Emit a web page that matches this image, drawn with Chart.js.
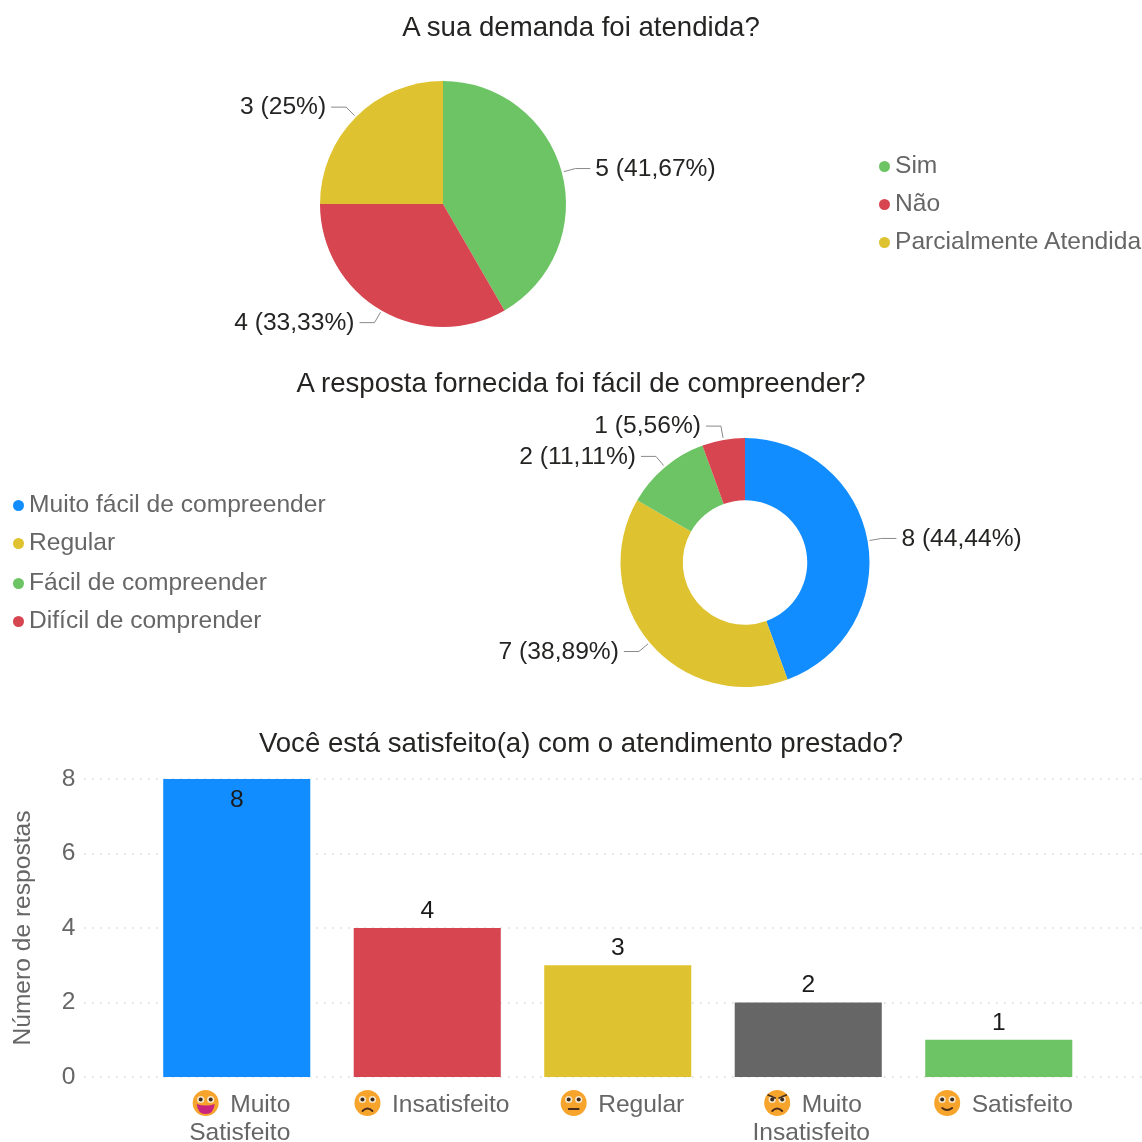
<!DOCTYPE html>
<html lang="pt-BR">
<head>
<meta charset="utf-8">
<title>Pesquisa de satisfação</title>
<script src="https://cdn.jsdelivr.net/npm/chart.js@4"></script>
<style>
    body { margin: 0; background: #fff; font-family: "Liberation Sans", Arial, sans-serif; }
    #page { position: relative; width: 1142px; height: 1142px; overflow: hidden; }
    canvas { position: absolute; left: 0; }
    .title { position: absolute; left: 20px; width: 1122px; text-align: center; font-size: 27.6px; line-height: 32px; color: #252423; }
    .legend-item { position: absolute; font-size: 24.6px; line-height: 28px; color: #666; white-space: nowrap; }
    .legend-item i { position: absolute; width: 11px; height: 11px; border-radius: 50%; top: 10px; left: -16px; }
</style>
</head>
<body>
<div id="page">
    <canvas id="demandChart" width="1142" height="360" style="top:0"></canvas>
    <canvas id="clarityChart" width="1142" height="350" style="top:360px"></canvas>
    <canvas id="satisfactionChart" width="1142" height="422" style="top:720px"></canvas>
</div>
<script>
var BLUE = '#118DFF', RED = '#D64550', YELLOW = '#DFC22F', GREEN = '#6CC464', GREY = '#666666';
var FONT = '"Liberation Sans", Arial, sans-serif';
var FONT_SIZE = 24.6;

var demandLabels = ['Sim', 'Não', 'Parcialmente Atendida'];
var demandValues = [5, 4, 3];

var clarityLabels = ['Muito fácil de compreender', 'Regular', 'Fácil de compreender', 'Difícil de comprender'];
var clarityValues = [8, 7, 2, 1];

var satisfactionLabels = [['      Muito', 'Satisfeito'], '      Insatisfeito', '      Regular', ['      Muito', 'Insatisfeito'], '      Satisfeito'];
var satisfactionValues = [8, 4, 3, 2, 1];
var satisfactionFaces = ['grin', 'frown', 'flat', 'angry', 'smile'];

// "5 (41,67%)" style labels with an elbow leader line, one per slice
var sliceLabels = {
    id: 'sliceLabels',
    afterDatasetsDraw: function (chart) {
        var ctx = chart.ctx;
        var values = chart.data.datasets[0].data;
        var total = values.reduce(function (a, b) { return a + b; }, 0);
        chart.getDatasetMeta(0).data.forEach(function (arc, i) {
            var mid = (arc.startAngle + arc.endAngle) / 2;
            var cos = Math.cos(mid), sin = Math.sin(mid);
            var side = cos >= 0 ? 1 : -1;
            var ex = arc.x + cos * (arc.outerRadius + 14);
            var ey = arc.y + sin * (arc.outerRadius + 14);
            var pct = (values[i] / total * 100).toLocaleString('pt-BR', { maximumFractionDigits: 2 });

            ctx.save();
            ctx.strokeStyle = '#8a8a8a';
            ctx.lineWidth = 1;
            ctx.beginPath();
            ctx.moveTo(arc.x + cos * (arc.outerRadius + 2), arc.y + sin * (arc.outerRadius + 2));
            ctx.lineTo(ex, ey);
            ctx.lineTo(ex + side * 15, ey);
            ctx.stroke();

            ctx.fillStyle = '#252423';
            ctx.font = FONT_SIZE + 'px ' + FONT;
            ctx.textBaseline = 'middle';
            ctx.textAlign = side > 0 ? 'left' : 'right';
            ctx.fillText(values[i] + ' (' + pct + '%)', ex + side * 20, ey + 0.5);
            ctx.restore();
        });
    }
};

// dotted value grid runs past the category band on both sides
var dottedGrid = {
    id: 'dottedGrid',
    beforeDatasetsDraw: function (chart) {
        var ctx = chart.ctx, y = chart.scales.y;
        ctx.save();
        ctx.strokeStyle = '#d8d8d8';
        ctx.lineWidth = 1.5;
        ctx.setLineDash([1.5, 6.5]);
        y.ticks.forEach(function (t) {
            var py = Math.round(y.getPixelForValue(t.value));
            ctx.beginPath();
            ctx.moveTo(84, py);
            ctx.lineTo(chart.width, py);
            ctx.stroke();
        });
        ctx.restore();
    }
};

// count above each bar, or just inside when the bar reaches the top of the axis
var barValues = {
    id: 'barValues',
    afterDatasetsDraw: function (chart) {
        var ctx = chart.ctx;
        ctx.save();
        ctx.font = FONT_SIZE + 'px ' + FONT;
        ctx.fillStyle = '#1a1a1a';
        ctx.textAlign = 'center';
        ctx.textBaseline = 'middle';
        chart.getDatasetMeta(0).data.forEach(function (bar, i) {
            var inside = bar.y - chart.chartArea.top < 20;
            ctx.fillText(satisfactionValues[i], bar.x, inside ? bar.y + 21 : bar.y - 17);
        });
        ctx.restore();
    }
};

function drawFace(ctx, x, y, kind) {
    var r = 13;
    ctx.save();
    ctx.translate(x, y);
    ctx.fillStyle = '#F7A42C';
    ctx.beginPath();
    ctx.arc(0, 0, r, 0, Math.PI * 2);
    ctx.fill();

    // eyes
    ctx.fillStyle = '#F8E6C8';
    [-5, 5].forEach(function (ex) {
        ctx.beginPath();
        ctx.arc(ex, -3.5, 3.6, 0, Math.PI * 2);
        ctx.fill();
    });
    ctx.fillStyle = '#3a2a20';
    [-5, 5].forEach(function (ex) {
        ctx.beginPath();
        ctx.arc(ex, -3.5, 2, 0, Math.PI * 2);
        ctx.fill();
    });

    ctx.strokeStyle = '#4a2c1a';
    ctx.lineWidth = 1.8;
    ctx.lineCap = 'round';
    ctx.beginPath();
    if (kind === 'grin') {
        ctx.fillStyle = '#C8257F';
        ctx.moveTo(-9, 1);
        ctx.quadraticCurveTo(0, 4, 9, 1);
        ctx.quadraticCurveTo(8, 11, 0, 11);
        ctx.quadraticCurveTo(-8, 11, -9, 1);
        ctx.fill();
    } else if (kind === 'smile') {
        ctx.moveTo(-5, 5);
        ctx.quadraticCurveTo(0, 9, 5, 5);
        ctx.stroke();
    } else if (kind === 'flat') {
        ctx.moveTo(-5, 6);
        ctx.lineTo(5, 6);
        ctx.stroke();
    } else {
        ctx.moveTo(-5, 8);
        ctx.quadraticCurveTo(0, 3, 5, 8);
        ctx.stroke();
    }
    if (kind === 'angry') {
        ctx.beginPath();
        ctx.moveTo(-9, -8);
        ctx.lineTo(-2, -5);
        ctx.moveTo(9, -8);
        ctx.lineTo(2, -5);
        ctx.stroke();
    }
    ctx.restore();
}

// faces sit in the blank space left at the start of each tick label's first line
var tickFaces = {
    id: 'tickFaces',
    afterDraw: function (chart) {
        var ctx = chart.ctx, x = chart.scales.x;
        ctx.save();
        ctx.font = FONT_SIZE + 'px ' + FONT;
        satisfactionFaces.forEach(function (kind, i) {
            var label = satisfactionLabels[i];
            var first = Array.isArray(label) ? label[0] : label;
            var w = ctx.measureText(first).width;
            drawFace(ctx, x.getPixelForTick(i) + x.options.ticks.labelOffset - w / 2 + 16.5, 1103 - 720, kind);
        });
        ctx.restore();
    }
};

function pieOptions(padding) {
    return {
        responsive: false,
        animation: false,
        layout: { padding: padding },
        plugins: { legend: { display: false }, tooltip: { enabled: false } }
    };
}

new Chart(document.getElementById('demandChart'), {
    type: 'pie',
    data: {
        labels: demandLabels,
        datasets: [{ data: demandValues, backgroundColor: [GREEN, RED, YELLOW], borderWidth: 0 }]
    },
    options: pieOptions({ left: 320, right: 576, top: 81, bottom: 33 }),
    plugins: [sliceLabels]
});

new Chart(document.getElementById('clarityChart'), {
    type: 'doughnut',
    data: {
        labels: clarityLabels,
        datasets: [{ data: clarityValues, backgroundColor: [BLUE, YELLOW, GREEN, RED], borderWidth: 0 }]
    },
    options: Object.assign(pieOptions({ left: 620, right: 272, top: 78, bottom: 23 }), { cutout: '50%' }),
    plugins: [sliceLabels]
});

new Chart(document.getElementById('satisfactionChart'), {
    type: 'bar',
    data: {
        labels: satisfactionLabels,
        datasets: [{
            data: satisfactionValues,
            backgroundColor: [BLUE, RED, YELLOW, GREY, GREEN],
            categoryPercentage: 1,
            barPercentage: 0.772
        }]
    },
    options: {
        responsive: false,
        animation: false,
        layout: { padding: { top: 59, right: 48, left: 0, bottom: 0 } },
        plugins: { legend: { display: false }, tooltip: { enabled: false } },
        scales: {
            x: {
                grid: { display: false },
                border: { display: false },
                afterFit: function (scale) {
                    scale.height = 65;
                    scale.paddingLeft = 0;
                    scale.paddingRight = 0;
                },
                ticks: {
                    color: GREY,
                    font: { family: FONT, size: FONT_SIZE, lineHeight: 1.14 },
                    padding: 6,
                    labelOffset: 3,
                    maxRotation: 0,
                    autoSkip: false
                }
            },
            y: {
                min: 0,
                max: 8,
                grid: { display: false },
                border: { display: false },
                afterFit: function (scale) {
                    scale.width = 141.5;
                    scale.paddingTop = 0;
                    scale.paddingBottom = 0;
                },
                title: {
                    display: true,
                    text: 'Número de respostas',
                    color: GREY,
                    font: { family: FONT, size: FONT_SIZE },
                    padding: { top: 8, bottom: 0 }
                },
                ticks: {
                    stepSize: 2,
                    color: GREY,
                    font: { family: FONT, size: FONT_SIZE },
                    padding: 58
                }
            }
        }
    },
    plugins: [dottedGrid, barValues, tickFaces]
});

// titles and legends
var page = document.getElementById('page');

function addTitle(text, top) {
    var el = document.createElement('div');
    el.className = 'title';
    el.style.top = top + 'px';
    el.textContent = text;
    page.appendChild(el);
}

function addLegend(labels, colors, left, tops) {
    labels.forEach(function (label, i) {
        var el = document.createElement('div');
        el.className = 'legend-item';
        el.style.left = left + 'px';
        el.style.top = (tops[i] - 14) + 'px';
        el.textContent = label;
        var dot = document.createElement('i');
        dot.style.background = colors[i];
        el.appendChild(dot);
        page.appendChild(el);
    });
}

addTitle('A sua demanda foi atendida?', 11);
addTitle('A resposta fornecida foi fácil de compreender?', 367);
addTitle('Você está satisfeito(a) com o atendimento prestado?', 727);
addLegend(demandLabels, [GREEN, RED, YELLOW], 895, [165, 203, 241]);
addLegend(clarityLabels, [BLUE, YELLOW, GREEN, RED], 29, [504, 542, 582, 620]);
</script>
</body>
</html>
